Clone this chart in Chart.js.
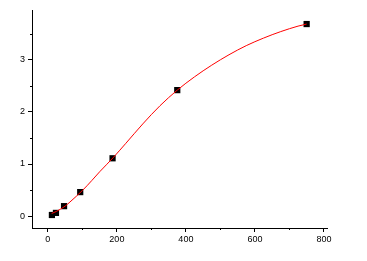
<!DOCTYPE html>
<html>
<head>
<meta charset="utf-8">
<script src="https://cdn.jsdelivr.net/npm/chart.js@4"></script>
<style>
  html, body { margin: 0; padding: 0; background: #fff; }
  #wrap { width: 367px; height: 261px; }
</style>
</head>
<body>
<div id="wrap"><canvas id="chart1"></canvas></div>
<script>
// measured points
var concX = [11.7, 23.4, 46.9, 93.75, 187.5, 375, 750];
var concY = [0.02, 0.06, 0.19, 0.46, 1.11, 2.42, 3.69];

// fitted curve
var fitX = [11, 25, 50, 64, 100, 127, 150, 189, 225, 275, 325, 375, 425, 475, 525, 575, 625, 675, 725, 750];
var fitY = [0.05, 0.09, 0.19, 0.27, 0.49, 0.68, 0.85, 1.12, 1.39, 1.77, 2.12, 2.42, 2.675, 2.90, 3.10, 3.275, 3.42, 3.545, 3.65, 3.69];

var xTicks = [0, 200, 400, 600, 800];
var yTicks = [0, 1, 2, 3];

function toPts(xs, ys) {
  return xs.map(function(x, i) { return {x: x, y: ys[i]}; });
}

// short minor ticks between the labelled ones
var minorTicks = {
  id: 'minorTicks',
  afterDraw: function(chart) {
    var c = chart.ctx, xs = chart.scales.x, ys = chart.scales.y;
    c.save();
    c.strokeStyle = '#000';
    c.lineWidth = 1;
    c.beginPath();
    [100, 300, 500, 700].forEach(function(v) {
      var p = Math.round(xs.getPixelForValue(v)) + 0.5;
      c.moveTo(p, xs.top); c.lineTo(p, xs.top + 2);
    });
    [0.5, 1.5, 2.5, 3.5].forEach(function(v) {
      var p = Math.round(ys.getPixelForValue(v)) + 0.5;
      c.moveTo(ys.right, p); c.lineTo(ys.right - 2, p);
    });
    c.stroke();
    c.restore();
  }
};

var ctx = document.getElementById('chart1').getContext('2d');
var myChart = new Chart(ctx, {
  type: 'scatter',
  data: {
    datasets: [{
      label: 'fit',
      data: toPts(fitX, fitY),
      showLine: true,
      borderColor: '#ff0000',
      borderWidth: 1,
      pointRadius: 0,
      cubicInterpolationMode: 'monotone',
      order: 0
    }, {
      label: 'data',
      data: toPts(concX, concY),
      pointStyle: 'rect',
      pointRadius: 4.4,
      backgroundColor: '#000',
      borderColor: '#000',
      borderWidth: 0,
      order: 1
    }]
  },
  options: {
    responsive: true,
    maintainAspectRatio: false,
    animation: false,
    layout: { padding: { top: 10, right: 40, left: 0, bottom: 0 } },
    plugins: {
      legend: { display: false },
      tooltip: { enabled: false }
    },
    scales: {
      x: {
        type: 'linear',
        min: -46,
        max: 809,
        afterBuildTicks: function(s) { s.ticks = xTicks.map(function(v) { return {value: v}; }); },
        afterFit: function(s) { s.height = 33; },
        border: { display: true, color: '#000', width: 1 },
        grid: { drawOnChartArea: false, drawTicks: true, tickLength: 4, color: '#000' },
        ticks: { color: '#000', padding: 2, maxRotation: 0, font: { family: 'Liberation Sans', size: 9 } }
      },
      y: {
        type: 'linear',
        min: -0.23,
        max: 3.96,
        afterBuildTicks: function(s) { s.ticks = yTicks.map(function(v) { return {value: v}; }); },
        afterFit: function(s) { s.width = 32; },
        border: { display: true, color: '#000', width: 1 },
        grid: { drawOnChartArea: false, drawTicks: true, tickLength: 4, color: '#000' },
        ticks: { color: '#000', padding: 3, font: { family: 'Liberation Sans', size: 9 } }
      }
    }
  },
  plugins: [minorTicks]
});
</script>
</body>
</html>
